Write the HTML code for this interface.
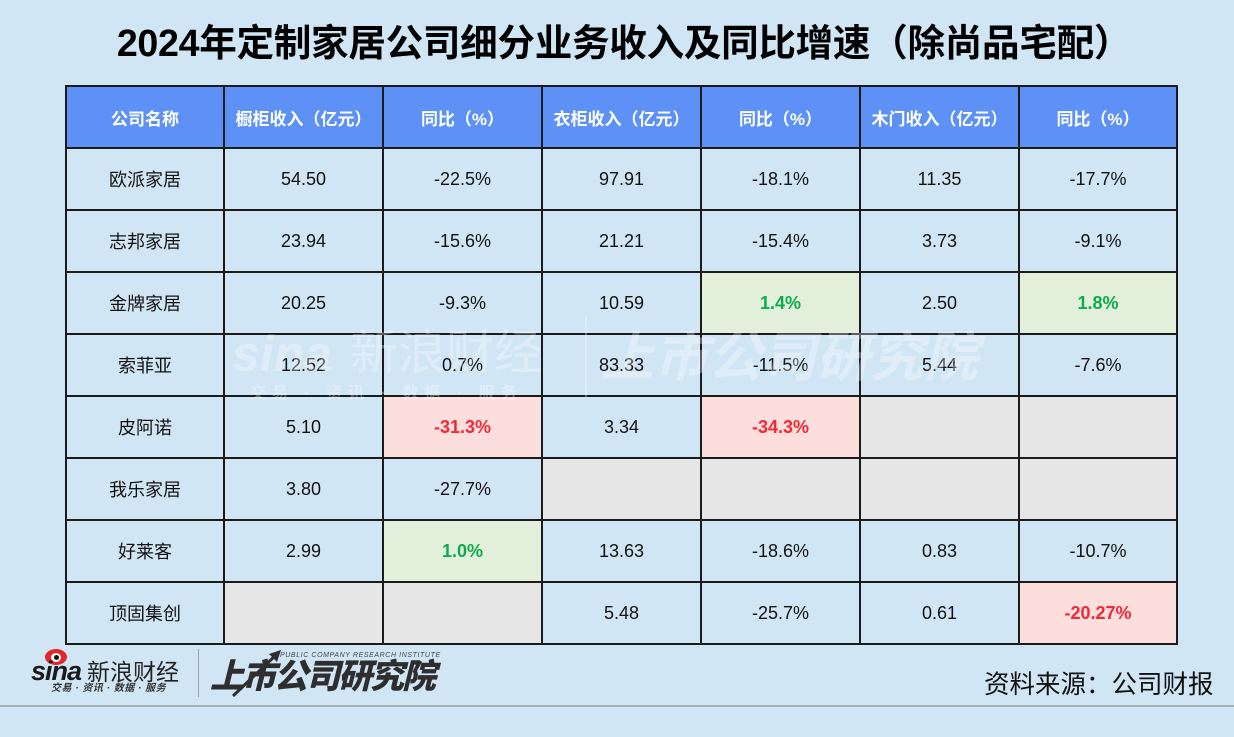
<!DOCTYPE html>
<html><head><meta charset="utf-8">
<style>
html,body{margin:0;padding:0;}
body{width:1234px;height:737px;background:#d1e6f5;position:relative;overflow:hidden;font-family:"Liberation Sans","Noto Sans CJK SC",sans-serif;}
.title{position:absolute;left:7px;top:17px;width:1234px;text-align:center;font-size:37.6px;font-weight:bold;line-height:52px;color:#000;letter-spacing:-0.3px;}
table{position:absolute;left:65px;top:85px;border-collapse:collapse;table-layout:fixed;width:1111px;}
td{border:2px solid #1b1b1b;height:60px;padding:0;text-align:center;vertical-align:middle;font-size:18px;color:#111;}
tr.h td{background:#5e91f5;color:#fff;font-weight:bold;font-size:17px;}
td.r{background:#fcdfdd;color:#ee2a35;font-weight:bold;}
td.g{background:#e2efda;color:#0dab4e;font-weight:bold;}
td.x{background:#e6e6e6;}
.wm{position:absolute;color:rgba(255,255,255,0.3);pointer-events:none;white-space:nowrap;}
.src{position:absolute;left:984px;top:668px;font-size:25.5px;color:#111;line-height:34px;}
.hr{position:absolute;left:0;top:705px;width:1234px;height:2px;background:#a9b0b6;}
</style></head><body>
<div class="title">2024年定制家居公司细分业务收入及同比增速（除尚品宅配）</div>
<table>
<colgroup><col style="width:158px"><col style="width:159px"><col style="width:159px"><col style="width:159px"><col style="width:159px"><col style="width:159px"><col style="width:158px"></colgroup>
<tr class="h"><td>公司名称</td><td>橱柜收入（亿元）</td><td>同比（%）</td><td>衣柜收入（亿元）</td><td>同比（%）</td><td>木门收入（亿元）</td><td>同比（%）</td></tr>
<tr><td>欧派家居</td><td>54.50</td><td>-22.5%</td><td>97.91</td><td>-18.1%</td><td>11.35</td><td>-17.7%</td></tr>
<tr><td>志邦家居</td><td>23.94</td><td>-15.6%</td><td>21.21</td><td>-15.4%</td><td>3.73</td><td>-9.1%</td></tr>
<tr><td>金牌家居</td><td>20.25</td><td>-9.3%</td><td>10.59</td><td class="g">1.4%</td><td>2.50</td><td class="g">1.8%</td></tr>
<tr><td>索菲亚</td><td>12.52</td><td>0.7%</td><td>83.33</td><td>-11.5%</td><td>5.44</td><td>-7.6%</td></tr>
<tr><td>皮阿诺</td><td>5.10</td><td class="r">-31.3%</td><td>3.34</td><td class="r">-34.3%</td><td class="x"></td><td class="x"></td></tr>
<tr><td>我乐家居</td><td>3.80</td><td>-27.7%</td><td class="x"></td><td class="x"></td><td class="x"></td><td class="x"></td></tr>
<tr><td>好莱客</td><td>2.99</td><td class="g">1.0%</td><td>13.63</td><td>-18.6%</td><td>0.83</td><td>-10.7%</td></tr>
<tr><td>顶固集创</td><td class="x"></td><td class="x"></td><td>5.48</td><td>-25.7%</td><td>0.61</td><td class="r">-20.27%</td></tr>
</table>

<!-- watermark -->
<div class="wm" style="left:232px;top:326px;font-size:50px;font-weight:bold;font-style:italic;line-height:56px;">sina</div>
<div class="wm" style="left:350px;top:326px;font-size:48px;line-height:56px;">新浪财经</div>
<div class="wm" style="left:250px;top:384px;font-size:16px;font-weight:bold;letter-spacing:6px;line-height:20px;">交易 · 资讯 · 数据 · 服务</div>
<div class="wm" style="left:585px;top:315px;width:2px;height:82px;background:rgba(255,255,255,0.3);"></div>
<div class="wm" style="left:600px;top:326px;font-size:54px;font-weight:bold;font-style:italic;line-height:64px;">上市公司研究院</div>

<!-- bottom logos -->
<div style="position:absolute;left:45px;top:649px;width:22px;height:16px;border-radius:50%;background:#e3262c;"></div>
<div style="position:absolute;left:51px;top:653px;width:10px;height:9px;border-radius:50%;background:#fff;"></div>
<div style="position:absolute;left:54px;top:655px;width:5px;height:5px;border-radius:50%;background:#111;"></div>
<div style="position:absolute;left:31px;top:656px;font-size:27px;font-weight:bold;font-style:italic;color:#1a1a1a;line-height:30px;letter-spacing:-1px;">sina</div>
<div style="position:absolute;left:87px;top:658px;font-size:23px;color:#222;line-height:28px;">新浪财经</div>
<div style="position:absolute;left:51px;top:683px;font-size:10px;font-weight:bold;font-style:italic;color:#333;line-height:12px;letter-spacing:0.5px;">交易 · 资讯 · 数据 · 服务</div>
<div style="position:absolute;left:198px;top:649px;width:1px;height:48px;background:#9aa5ad;"></div>
<div style="position:absolute;left:280px;top:652px;font-size:7px;font-style:italic;color:#444;line-height:8px;letter-spacing:0.6px;">PUBLIC COMPANY RESEARCH INSTITUTE</div>
<div style="position:absolute;left:210px;top:656px;font-size:34px;font-weight:900;font-style:italic;color:#2e2e2e;line-height:42px;letter-spacing:-2px;">上市公司研究院</div>
<svg style="position:absolute;left:225px;top:648px;" width="60" height="52"><line x1="8" y1="48" x2="52" y2="6" stroke="#2e2e2e" stroke-width="3"/><polygon points="56,2 44,6 52,14" fill="#2e2e2e"/></svg>

<div class="src">资料来源：公司财报</div>
<div class="hr"></div>
</body></html>
